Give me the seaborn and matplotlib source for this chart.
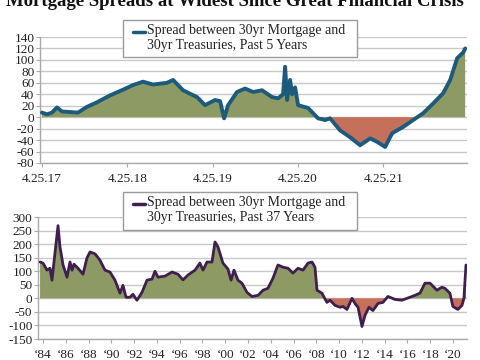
import numpy as np
import pandas as pd
import seaborn as sns
import matplotlib
matplotlib.use("Agg")
import matplotlib.pyplot as plt
from matplotlib.patches import Rectangle
from matplotlib.lines import Line2D

# ---------------- data ----------------
# Top panel: years elapsed since 4.25.17, spread (bp)
top_t = [0.000, 0.059, 0.117, 0.176, 0.234, 0.328, 0.422, 0.527, 0.645, 0.797,
         0.950, 1.067, 1.184, 1.301, 1.465, 1.536, 1.653, 1.817, 1.911, 2.028,
         2.087, 2.134, 2.181, 2.286, 2.380, 2.474, 2.579, 2.696, 2.767, 2.825,
         2.849, 2.872, 2.907, 2.931, 2.966, 3.001, 3.118, 3.235, 3.318, 3.376,
         3.493, 3.610, 3.728, 3.845, 3.927, 4.021, 4.103, 4.232, 4.349, 4.467,
         4.584, 4.701, 4.783, 4.865, 4.936, 4.959]
top_v = [8, 5, 8, 17, 10, 9, 8, 18, 26, 38,
         48, 56, 62, 57, 60, 65, 47, 35, 21, 30,
         28, -2, 21, 44, 50, 44, 47, 35, 33, 40,
         88, 30, 65, 40, 52, 21, 16, -2, -5, -2,
         -23, -35, -49, -37, -43, -52, -28, -17, -5, 7,
         24, 42, 65, 103, 113, 120]
top_tick_pos = [0, 1, 2, 3, 4]
top_tick_labels = ["4.25.17", "4.25.18", "4.25.19", "4.25.20", "4.25.21"]

# Bottom panel: year, spread (bp)
bot_year = [1983.74, 1984.00, 1984.35, 1984.61, 1984.79, 1985.05, 1985.32, 1985.49, 1985.76, 1986.11,
            1986.37, 1986.55, 1986.72, 1987.07, 1987.51, 1987.86, 1988.13, 1988.57, 1989.00, 1989.44,
            1989.88, 1990.32, 1990.76, 1991.02, 1991.29, 1991.64, 1991.90, 1992.25, 1992.69, 1993.13,
            1993.57, 1993.83, 1994.10, 1994.71, 1995.33, 1995.85, 1996.29, 1996.73, 1997.35, 1997.78,
            1998.05, 1998.40, 1998.84, 1999.10, 1999.36, 1999.80, 2000.24, 2000.51, 2000.77, 2001.12,
            2001.47, 2001.91, 2002.35, 2002.88, 2003.32, 2003.75, 2004.19, 2004.63, 2005.07, 2005.51,
            2005.95, 2006.39, 2006.83, 2007.27, 2007.62, 2007.88, 2008.06, 2008.49, 2008.93, 2009.20,
            2009.64, 2010.08, 2010.34, 2010.69, 2011.13, 2011.39, 2011.66, 2012.01, 2012.27, 2012.62,
            2012.97, 2013.41, 2013.85, 2014.29, 2014.90, 2015.52, 2016.22, 2016.66, 2017.10, 2017.54,
            2017.98, 2018.59, 2019.03, 2019.29, 2019.73, 2019.99, 2020.43, 2020.79, 2020.96, 2021.14]
bot_v = [134, 130, 104, 111, 67, 167, 268, 190, 123, 78,
         134, 104, 126, 111, 89, 149, 171, 164, 141, 104,
         97, 67, 19, 48, 4, 4, 15, -7, 22, 67,
         71, 100, 78, 82, 97, 89, 68, 86, 104, 130,
         104, 134, 134, 208, 190, 130, 108, 67, 104, 67,
         56, 22, 7, 11, 30, 37, 74, 123, 115, 111,
         93, 111, 104, 130, 134, 115, 30, 19, -15, -7,
         -26, -33, -30, -41, 0, -19, -33, -104, -63, -33,
         -45, -19, -15, 7, -4, -7, 4, 11, 19, 56,
         56, 30, 41, 37, 19, -30, -41, -26, 0, 123]
bot_tick_pos = list(range(1984, 2021, 2))
bot_tick_labels = ["\u2018%02d" % (y % 100) for y in bot_tick_pos]

top_label = "Spread between 30yr Mortgage and\n30yr Treasuries, Past 5 Years"
bot_label = "Spread between 30yr Mortgage and\n30yr Treasuries, Past 37 Years"
title = "Mortgage Spreads at Widest Since Great Financial Crisis"

# ---------------- style ----------------
sns.set_theme(style="white")
plt.rcParams["font.family"] = ["Liberation Serif", "DejaVu Serif"]

GREEN = "#8e9a63"
RED = "#c4705b"
TEAL = "#1d5b7c"
PURPLE = "#3e1f4e"
GRID = "#c9c9c9"
TXT = "#222222"

fig = plt.figure(figsize=(4.8, 3.6), dpi=100)
fig.patch.set_facecolor("white")

ax1 = fig.add_axes([40/480, 1-163/360, 427/480, 126/360])
ax2 = fig.add_axes([38/480, 1-339/360, 429/480, 122/360])


def style_axes(ax, yticks, xpos, xlabels, xlim, ylim, pad_x):
    ax.set_xlim(*xlim)
    ax.set_ylim(*ylim)
    ax.set_yticks(yticks)
    ax.set_yticklabels([str(v) for v in yticks])
    ax.set_xticks(xpos)
    ax.set_xticklabels(xlabels)
    for y in yticks:
        ax.axhline(y, color=GRID, lw=1.0, zorder=0)
    for s in ["top", "right"]:
        ax.spines[s].set_visible(False)
    ax.spines["left"].set_color("#aaaaaa")
    ax.spines["bottom"].set_color("#aaaaaa")
    ax.spines["left"].set_linewidth(1.0)
    ax.spines["bottom"].set_linewidth(1.0)
    ax.tick_params(axis="y", length=3, width=0.8, color="#aaaaaa", pad=1,
                   labelsize=9.5, labelcolor=TXT, left=True)
    ax.tick_params(axis="x", length=3, width=0.8, color="#aaaaaa", pad=pad_x,
                   labelsize=9.5, labelcolor=TXT, bottom=True)
    ax.set_xlabel("")
    ax.set_ylabel("")


def draw_panel(ax, x, v, color, lw):
    x = np.asarray(x, float)
    v = np.asarray(v, float)
    ax.fill_between(x, 0, v, where=v >= 0, interpolate=True, color=GREEN, lw=0, zorder=1)
    ax.fill_between(x, 0, v, where=v <= 0, interpolate=True, color=RED, lw=0, zorder=1)
    df = pd.DataFrame({"x": x, "v": v})
    sns.lineplot(data=df, x="x", y="v", ax=ax, color=color, lw=lw, zorder=3,
                 estimator=None, sort=False)


draw_panel(ax1, top_t, top_v, TEAL, 2.8)
style_axes(ax1, list(range(-80, 141, 20)), top_tick_pos, top_tick_labels,
           (-0.023, 4.98), (-80, 140), 4)

draw_panel(ax2, bot_year, bot_v, PURPLE, 2.0)
style_axes(ax2, list(range(-150, 301, 50)), bot_tick_pos, bot_tick_labels,
           (1983.56, 2021.23), (-150, 300), 4)


def legend_box(x0, y0, x1, y1, color, label):
    # pixel coords (top-left origin) -> figure fraction
    W, H = 480, 360
    fig.patches.append(Rectangle((x0/W, 1-y1/H), (x1-x0)/W, (y1-y0)/H,
                                 transform=fig.transFigure, facecolor="white",
                                 edgecolor="#9a9a9a", lw=1.0, zorder=10))
    ly = y0 + 12
    fig.lines.append(Line2D([(x0+10)/W, (x0+22)/W], [1-ly/H, 1-ly/H],
                            transform=fig.transFigure, color=color, lw=2.5, zorder=11))
    fig.text((x0+24)/W, 1-(y0+4)/H, label, ha="left", va="top", fontsize=10,
             color=TXT, linespacing=1.2, zorder=12)


legend_box(123, 20, 357, 57, TEAL, top_label)
legend_box(123, 192, 357, 230, PURPLE, bot_label)

fig.text(0.49, 1-6/360, title, ha="center", va="baseline", fontsize=13.5,
         fontweight="bold", color="#111111")

fig.savefig("out.png", dpi=100, facecolor="white")
